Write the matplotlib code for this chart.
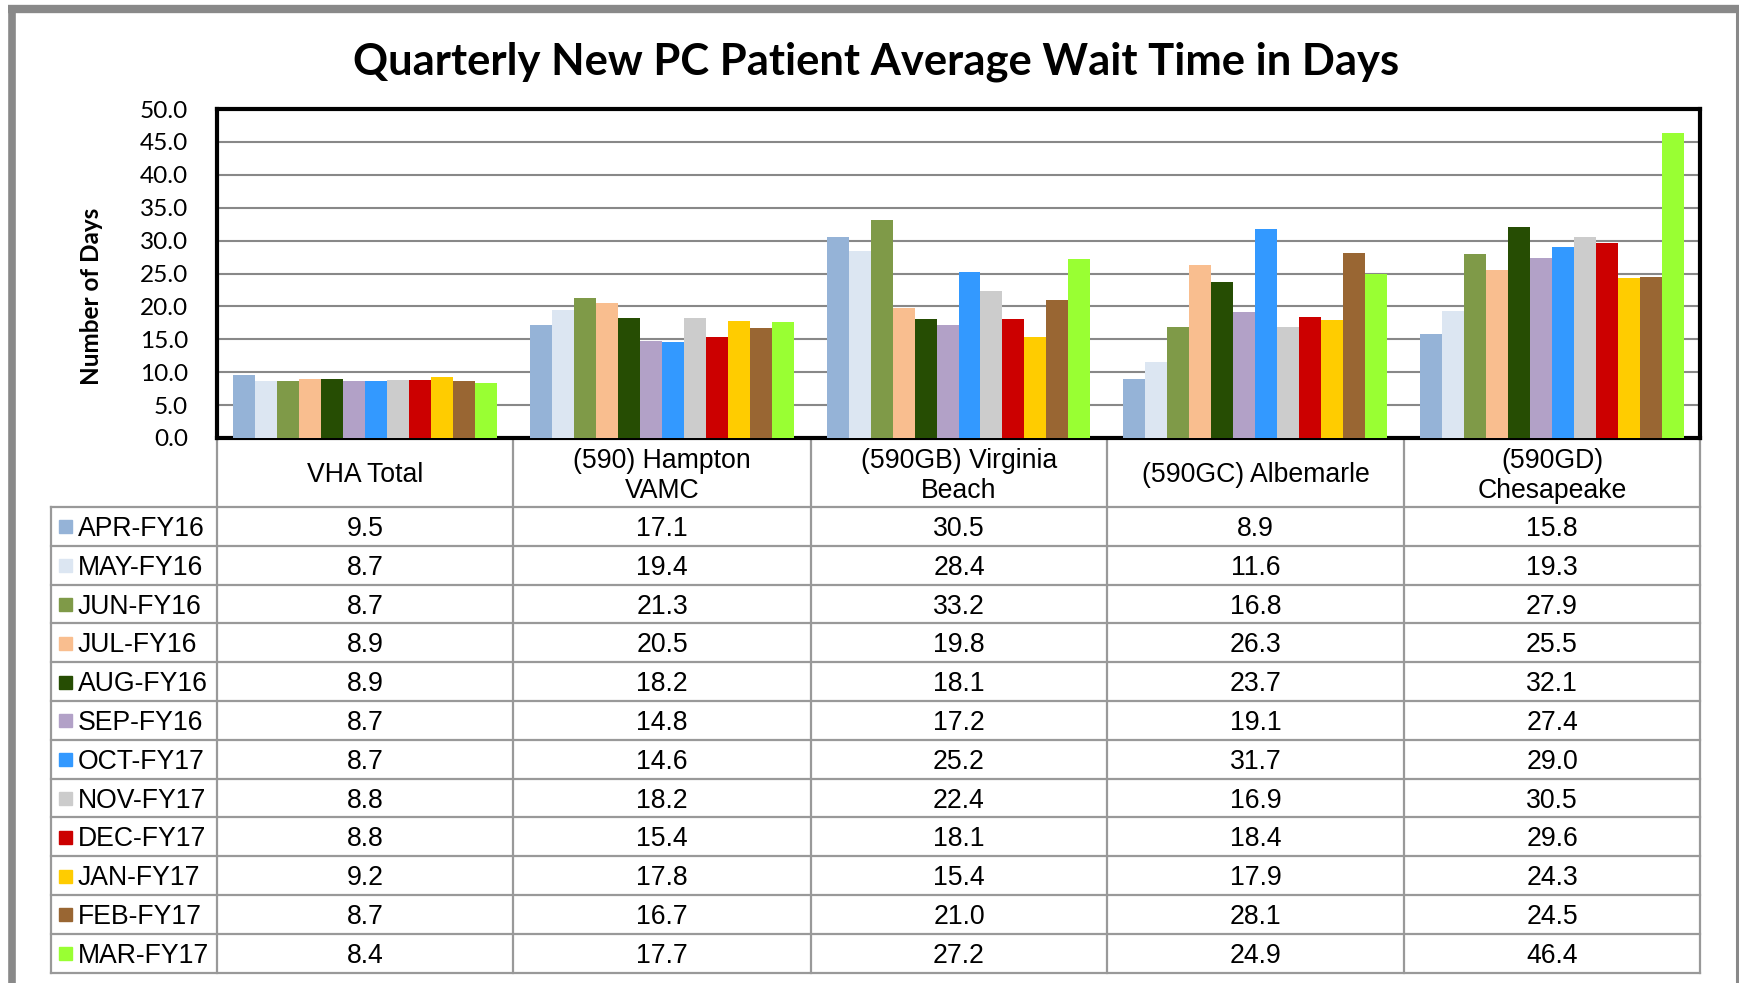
import matplotlib.pyplot as plt
import numpy as np

# Table / chart data
sites = ['VHA Total', '(590) Hampton\nVAMC', '(590GB) Virginia\nBeach',
         '(590GC) Albemarle', '(590GD)\nChesapeake']
months = ['APR-FY16', 'MAY-FY16', 'JUN-FY16', 'JUL-FY16', 'AUG-FY16', 'SEP-FY16',
          'OCT-FY17', 'NOV-FY17', 'DEC-FY17', 'JAN-FY17', 'FEB-FY17', 'MAR-FY17']
colors = ['#95B3D7', '#DCE6F2', '#7F9A48', '#F9BE8F', '#264D03', '#B2A1C7',
          '#3399FF', '#CCCCCC', '#CC0000', '#FFCC00', '#996633', '#99FF33']

apr = [9.5, 17.1, 30.5, 8.9, 15.8]
may = [8.7, 19.4, 28.4, 11.6, 19.3]
jun = [8.7, 21.3, 33.2, 16.8, 27.9]
jul = [8.9, 20.5, 19.8, 26.3, 25.5]
aug = [8.9, 18.2, 18.1, 23.7, 32.1]
sep = [8.7, 14.8, 17.2, 19.1, 27.4]
oct_ = [8.7, 14.6, 25.2, 31.7, 29.0]
nov = [8.8, 18.2, 22.4, 16.9, 30.5]
dec = [8.8, 15.4, 18.1, 18.4, 29.6]
jan = [9.2, 17.8, 15.4, 17.9, 24.3]
feb = [8.7, 16.7, 21.0, 28.1, 24.5]
mar = [8.4, 17.7, 27.2, 24.9, 46.4]
values = [apr, may, jun, jul, aug, sep, oct_, nov, dec, jan, feb, mar]

W, H = 1739, 983
fig = plt.figure(figsize=(W/100, H/100), dpi=100)

# overlay in pixel coords for frame + table
ov = fig.add_axes([0, 0, 1, 1])
ov.set_xlim(0, W)
ov.set_ylim(H, 0)
ov.axis('off')

# outer gray frame
ov.plot([11.5, 11.5], [5, H], color='#898989', lw=5.5, solid_capstyle='butt')
ov.plot([8, W], [9, 9], color='#898989', lw=6, solid_capstyle='butt')
ov.plot([1736.5, 1736.5], [5, H], color='#898989', lw=2.2, solid_capstyle='butt')

# chart area
x_left, x_right = 217, 1700
y_top, y_bot = 109, 438
ax = fig.add_axes([x_left/W, 1 - y_bot/H, (x_right - x_left)/W, (y_bot - y_top)/H])

n = len(months)
group_w = 0.89
bw = group_w / n
x = np.arange(len(sites))
for i, (m, vals) in enumerate(zip(months, values)):
    ax.bar(x - group_w/2 + bw*(i + 0.5), vals, width=bw, color=colors[i],
           label=m, zorder=3, linewidth=0)

ax.set_xlim(-0.5, len(sites) - 0.5)
ax.set_ylim(0, 50)
ax.set_yticks(np.arange(0, 50.1, 5))
ax.set_yticklabels(['%.1f' % v for v in np.arange(0, 50.1, 5)],
                   fontsize=17.6, family='Lato')
ax.tick_params(axis='y', length=0, pad=21)
ax.set_xticks([])
ax.grid(axis='y', color='#888888', lw=1.5, zorder=0)
for s in ax.spines.values():
    s.set_linewidth(3)
    s.set_color('black')
ax.set_ylabel('Number of Days', fontsize=17.5, fontweight='bold', family='Lato')
ax.yaxis.set_label_coords(-0.077, 0.43)

fig.text(0.504, 1 - 62/H, 'Quarterly New PC Patient Average Wait Time in Days',
         ha='center', va='center', fontsize=31.3, fontweight='bold', family='Lato')

# data table
col_x = [217, 513, 811, 1107, 1404, 1700]
tab_left = 51
hdr_top, hdr_bot = 438, 507
row_h = 38.8
line_c = '#999999'
lw = 1.6

for cx in col_x:
    ov.plot([cx, cx], [hdr_top, hdr_bot + row_h*n], color=line_c, lw=lw)
ov.plot([tab_left, tab_left], [hdr_bot, hdr_bot + row_h*n], color=line_c, lw=lw)
ov.plot([col_x[0], col_x[-1]], [hdr_top, hdr_top], color=line_c, lw=lw)
for r in range(n + 1):
    y = hdr_bot + r*row_h
    ov.plot([tab_left, col_x[-1]], [y, y], color=line_c, lw=lw)

tfont = dict(family='Liberation Sans', fontsize=19.2)
for j, s in enumerate(sites):
    cx = (col_x[j] + col_x[j+1]) / 2
    ov.text(cx, (hdr_top + hdr_bot)/2 + 3, s, ha='center', va='center',
            linespacing=1.2, **tfont)

for i, m in enumerate(months):
    yc = hdr_bot + (i + 0.5)*row_h
    ov.add_patch(plt.Rectangle((59, yc - 6), 13, 13, color=colors[i]))
    ov.text(78, yc + 2.5, m, ha='left', va='center', **tfont)
    for j in range(len(sites)):
        cx = (col_x[j] + col_x[j+1]) / 2
        ov.text(cx, yc + 2.5, '%.1f' % values[i][j], ha='center', va='center', **tfont)

fig.savefig('out.png', dpi=100)
